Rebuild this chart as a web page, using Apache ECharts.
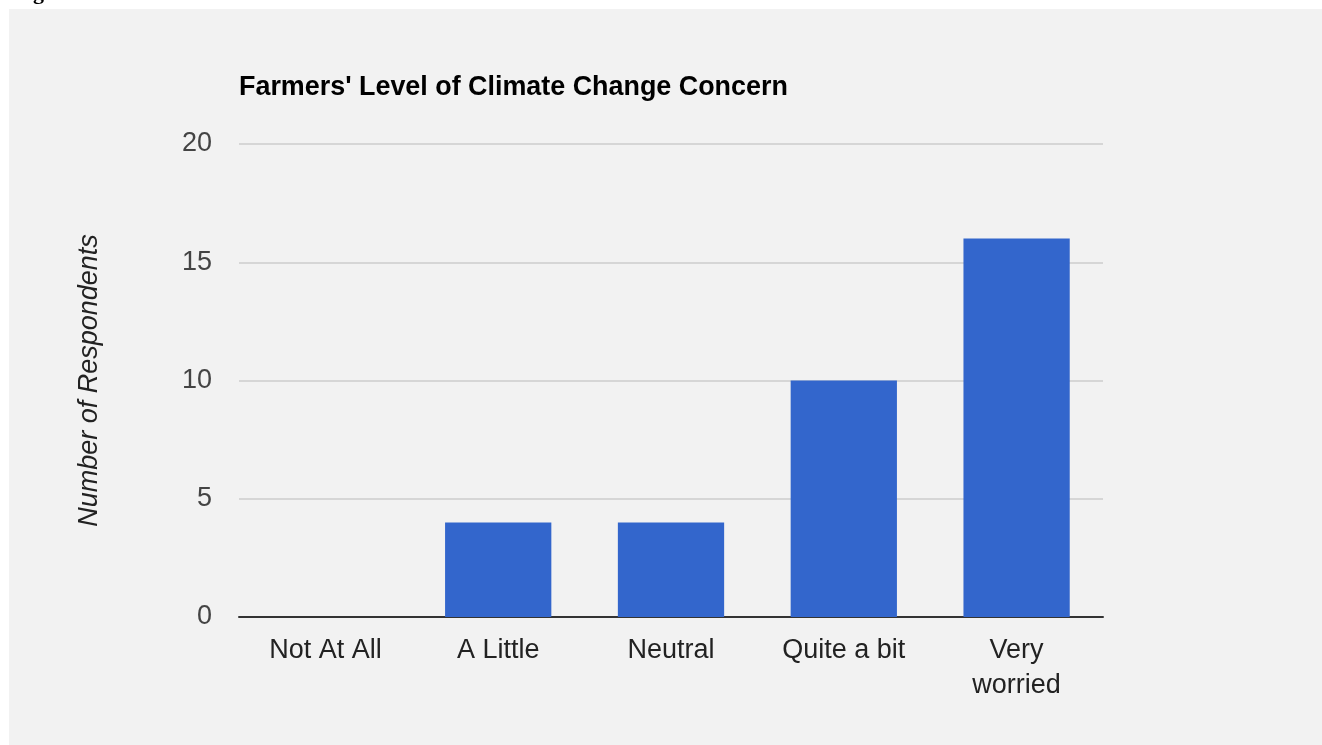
<!DOCTYPE html>
<html><head><meta charset="utf-8">
<script src="https://cdn.jsdelivr.net/npm/echarts@6/dist/echarts.min.js"></script>
<style>html,body{margin:0;padding:0;background:#fff;}#c{width:1322px;height:745px;}</style>
</head><body><div id="c"></div>
<script>
const categories = ['Not At All', 'A Little', 'Neutral', 'Quite a bit', 'Very\nworried'];
const respondents = [0, 4, 4, 10, 16];
const yTicks = [0, 5, 10, 15, 20];

const chart = echarts.init(document.getElementById('c'));
chart.setOption({
  backgroundColor: '#ffffff',
  animation: false,
  graphic: [
    { type: 'rect', left: 9, top: 9, z: -10, shape: { width: 1313, height: 736 }, style: { fill: '#f2f2f2' } },
    { type: 'text', left: 33, top: -18, style: { text: 'g', font: 'bold 22px "Liberation Serif"', fill: '#000' } }
  ],
  title: {
    text: "Farmers' Level of Climate Change Concern",
    left: 234, top: 69,
    textStyle: { fontFamily: 'Liberation Sans, Arial', fontWeight: 'bold', fontSize: 26.9, color: '#000' }
  },
  grid: { left: 239, right: 219, top: 144, bottom: 128, containLabel: false },
  xAxis: {
    type: 'category',
    data: categories,
    axisLine: { lineStyle: { color: '#333', width: 2 } },
    axisTick: { show: false },
    axisLabel: { color: '#222', fontSize: 27, fontFamily: 'Liberation Sans, Arial', margin: 16, lineHeight: 35 }
  },
  yAxis: {
    type: 'value',
    min: yTicks[0], max: yTicks[yTicks.length - 1], interval: 5,
    name: 'Number of Respondents',
    nameLocation: 'middle', nameGap: 136,
    nameTextStyle: { fontStyle: 'italic', fontSize: 27, color: '#222', fontFamily: 'Liberation Sans, Arial' },
    axisLine: { show: false }, axisTick: { show: false },
    axisLabel: { color: '#444', fontSize: 27, fontFamily: 'Liberation Sans, Arial', margin: 27, padding: [4, 0, 0, 0] },
    splitLine: { lineStyle: { color: '#cccccc', width: 1.5 } }
  },
  series: [{
    type: 'bar',
    data: respondents,
    barWidth: '61.5%',
    itemStyle: { color: '#3366cc' }
  }]
});
</script></body></html>
